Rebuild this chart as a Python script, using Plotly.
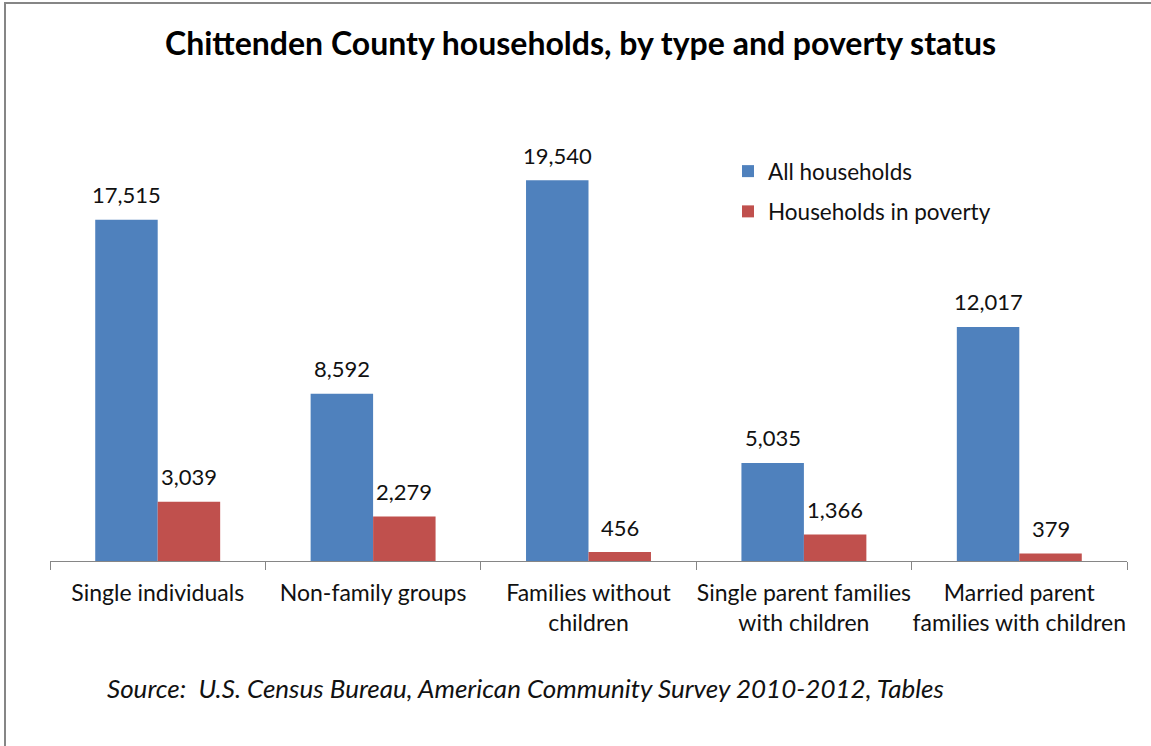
import plotly.graph_objects as go

categories = ["Single individuals", "Non-family groups", "Families without<br>children",
              "Single parent families<br>with children", "Married parent<br>families with children"]
all_households = [17515, 8592, 19540, 5035, 12017]
poverty_households = [3039, 2279, 456, 1366, 379]
series_names = ["All households", "Households in poverty"]
title_text = "Chittenden County households, by type and poverty status"
source_text = "Source:  U.S. Census Bureau, American Community Survey 2010-2012, Tables"

W, H = 1151, 746
ML, MR, MT, MB = 50, 24, 74, 185
PW, PH = W - ML - MR, H - MT - MB
BARGAP = 0.42
FONT = "Lato"
BLUE, RED = "#4F81BD", "#C0504D"
AXIS = "#868686"

px = lambda x: (x - ML) / PW
py = lambda y: (MT + PH - y) / PH

fig = go.Figure()
for name, vals, col in [(series_names[0], all_households, BLUE),
                        (series_names[1], poverty_households, RED)]:
    fig.add_trace(go.Bar(x=categories, y=vals, name=name, marker_color=col,
                         marker_line_width=0, legendgroup=name))

cat_px = PW / len(categories)
bar_px = cat_px * (1 - BARGAP) / 2
annotations = []
for vals, sgn in [(all_households, -1), (poverty_households, 1)]:
    for c, v in zip(categories, vals):
        annotations.append(dict(x=c, y=v, xref="x", yref="y", text=f"{v:,}",
                                showarrow=False, xshift=sgn * bar_px / 2, yshift=25,
                                yanchor="middle", font=dict(family=FONT, size=22, color="#111")))
annotations.append(dict(x=px(105), y=py(688), xref="paper", yref="paper",
                        xanchor="left", yanchor="middle", showarrow=False, text=source_text,
                        font=dict(family=FONT, size=26, color="#111", style="italic")))
annotations.append(dict(x=px(580), y=py(43), xref="paper", yref="paper", showarrow=False,
                        text="<b>" + title_text + "</b>", xanchor="center", yanchor="middle",
                        font=dict(family=FONT, size=32, color="#000")))

shapes = [
    dict(type="line", xref="paper", yref="paper", x0=px(4), x1=px(W + 5), y0=py(3), y1=py(3),
         line=dict(color=AXIS, width=2)),
    dict(type="line", xref="paper", yref="paper", x0=px(5), x1=px(5), y0=py(3), y1=py(H + 5),
         line=dict(color=AXIS, width=2)),
]

fig.update_layout(
    width=W, height=H, margin=dict(l=ML, r=MR, t=MT, b=MB, autoexpand=False),
    paper_bgcolor="white", plot_bgcolor="white",
    barmode="group", bargap=BARGAP, bargroupgap=0,
    font=dict(family=FONT, size=22, color="#111"),
    xaxis=dict(showline=True, linecolor=AXIS, linewidth=1, ticks="outside", ticklen=8,
               tickcolor=AXIS, tickson="boundaries", showgrid=False, tickangle=0,
               automargin=False,
               tickfont=dict(family=FONT, size=23, color="#111"), ticklabelstandoff=11),
    yaxis=dict(range=[0, 25000], visible=False, showgrid=False, automargin=False),
    legend=dict(x=px(728), y=py(150), xanchor="left", yanchor="top",
                font=dict(family=FONT, size=22.5, color="#111"), tracegroupgap=8,
                bgcolor="rgba(0,0,0,0)"),
    annotations=annotations, shapes=shapes,
)
fig.write_html("out.html", config={"displayModeBar": False},
               post_script="document.body.style.margin='0';document.body.style.overflow='hidden';")
